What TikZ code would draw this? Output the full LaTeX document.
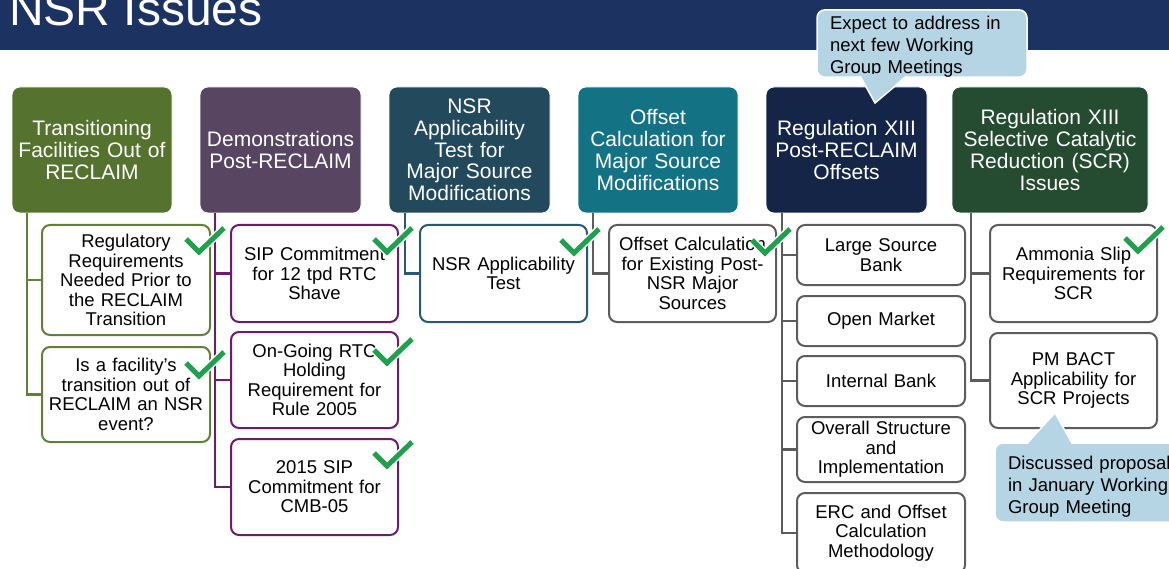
\documentclass[tikz,border=0pt]{standalone}
\usepackage{fontspec}
\setmainfont{Liberation Sans}
\definecolor{titlebar}{HTML}{1C3260}
\definecolor{hA}{HTML}{55722F}
\definecolor{hB}{HTML}{574562}
\definecolor{hC}{HTML}{234A5C}
\definecolor{hD}{HTML}{137385}
\definecolor{hE}{HTML}{142547}
\definecolor{hF}{HTML}{254B30}
\definecolor{lineA}{HTML}{62803A}
\definecolor{lineB}{HTML}{6B1C6B}
\definecolor{lineC}{HTML}{2B5871}
\definecolor{lineG}{HTML}{5C5C5C}
\definecolor{calfill}{HTML}{B5D4E4}
\definecolor{chkgreen}{HTML}{1EA04C}
\tikzset{
  chk/.pic={
    \draw[white, line width=8pt] (0,0)--(13,13)--(38,-11);
    \draw[chkgreen, line width=5pt] (0,0)--(13,13)--(38,-11);
  }
}
\begin{document}
\begin{tikzpicture}[x=1pt,y=-1pt,
  hdr/.style={rounded corners=8pt, draw=white, line width=0.8pt, text=white, align=center,
    inner sep=0pt, font=\fontsize{21}{21.7}\selectfont, minimum height=126pt},
  sub/.style={rounded corners=8pt, line width=2pt, fill=white, align=center, inner sep=0pt,
    font=\fontsize{18.5}{19.5}\selectfont, text width=160pt, minimum width=167pt},
  conn/.style={line width=2.5pt},
  callout/.style={rounded corners=8pt, fill=calfill, draw=white, line width=1.5pt, align=left,
    font=\fontsize{18.5}{22}\selectfont, text=black, inner xsep=13pt, inner ysep=0pt},
]
\useasboundingbox (0,0) rectangle (1169,569);
\clip (0,0) rectangle (1169,569);

% title bar
\fill[titlebar] (0,0) rectangle (1169,50);
\node[anchor=base west, inner sep=0pt, text=white, font=\fontsize{48}{48}\selectfont] (title) at (9,26) {NSR Issues};

% headers
\node[hdr, fill=hA, minimum width=160pt, text width=154pt] (h1) at (92,150) {Transitioning\\Facilities Out of\\RECLAIM};
\node[hdr, fill=hB, minimum width=161pt, text width=155pt] (h2) at (280.5,150) {Demonstrations\\Post-RECLAIM};
\node[hdr, fill=hC, minimum width=161pt, text width=155pt] (h3) at (469.5,150) {NSR\\Applicability\\Test for\\Major Source\\Modifications};
\node[hdr, fill=hD, minimum width=160pt, text width=154pt] (h4) at (658,150) {Offset\\Calculation for\\Major Source\\Modifications};
\node[hdr, fill=hE, minimum width=161pt, text width=155pt] (h5) at (846.5,150) {Regulation XIII\\Post-RECLAIM\\Offsets};
\node[hdr, fill=hF, minimum width=196pt, text width=190pt] (h6) at (1050,150) {Regulation XIII\\Selective Catalytic\\Reduction (SCR)\\Issues};

% trunk coordinates
\coordinate (t1) at (27,213);
\coordinate (t2) at (215,213);
\coordinate (t3) at (405,213);
\coordinate (t4) at (593,213);
\coordinate (t5) at (782,213);
\coordinate (t6) at (971,213);

% sub boxes
\node[sub, draw=lineA, minimum width=168pt, minimum height=110pt] (c1a) at (126,280) {Regulatory\\Requirements\\Needed Prior to\\the RECLAIM\\Transition};
\node[sub, draw=lineA, minimum width=168pt, minimum height=95pt] (c1b) at (126,394.5) {Is a facility’s\\transition out of\\RECLAIM an NSR\\event?};

\node[sub, draw=lineB, minimum height=97pt] (c2a) at (314.5,273.5) {SIP Commitment\\for 12 tpd RTC\\Shave};
\node[sub, draw=lineB, minimum height=96pt] (c2b) at (314.5,380) {On-Going RTC\\Holding\\Requirement for\\Rule 2005};
\node[sub, draw=lineB, minimum height=96pt] (c2c) at (314.5,487) {2015 SIP\\Commitment for\\CMB-05};

\node[sub, draw=lineC, minimum height=97pt] (c3) at (503.5,273.5) {NSR Applicability\\Test};

\node[sub, draw=lineG, minimum height=97pt] (c4) at (692.5,273.5) {Offset Calculation\\for Existing Post-\\NSR Major\\Sources};

\node[sub, draw=lineG, minimum width=168pt, minimum height=60pt] (c5a) at (881,255) {Large Source\\Bank};
\node[sub, draw=lineG, minimum width=168pt, minimum height=50pt] (c5b) at (881,321) {Open Market};
\node[sub, draw=lineG, minimum width=168pt, minimum height=50pt] (c5c) at (881,381) {Internal Bank};
\node[sub, draw=lineG, minimum width=168pt, minimum height=65pt] (c5d) at (881,449.5) {Overall Structure\\and\\Implementation};
\node[sub, draw=lineG, minimum width=168pt, minimum height=80pt] (c5e) at (881,533) {ERC and Offset\\Calculation\\Methodology};

\node[sub, draw=lineG, minimum height=97pt] (c6a) at (1073.5,273.5) {Ammonia Slip\\Requirements for\\SCR};
\node[sub, draw=lineG, minimum height=95pt] (c6b) at (1073.5,380.5) {PM BACT\\Applicability for\\SCR Projects};

% connectors
\draw[conn, lineA] (t1) |- (c1a.west);
\draw[conn, lineA] (t1) |- (c1b.west);
\draw[conn, lineB] (t2) |- (c2a.west);
\draw[conn, lineB] (t2) |- (c2b.west);
\draw[conn, lineB] (t2) |- (c2c.west);
\draw[conn, lineC] (t3) |- (c3.west);
\draw[conn, lineG] (t4) |- (c4.west);
\draw[conn, lineG] (t5) |- (c5a.west);
\draw[conn, lineG] (t5) |- (c5b.west);
\draw[conn, lineG] (t5) |- (c5c.west);
\draw[conn, lineG] (t5) |- (c5d.west);
\draw[conn, lineG] (t5) |- (c5e.west);
\draw[conn, lineG] (t6) |- (c6a.west);
\draw[conn, lineG] (t6) |- (c6b.west);

% check marks
\pic at (186,239) {chk};
\pic at (186,363) {chk};
\pic at (374,239) {chk};
\pic at (374,350) {chk};
\pic at (374,453) {chk};
\pic at (561,240) {chk};
\pic at (752,240) {chk};
\pic at (1125,238) {chk};

% callouts
\node[callout, minimum width=210pt, minimum height=65pt, text width=184pt] (co1) at (922,43.5) {\rule{0pt}{19.5pt}Expect to address in\\next few Working\\Group Meetings};
\fill[calfill] (860,74) -- (875,103) -- (907,74) -- cycle;
\draw[white, line width=1.5pt] (860,76) -- (875,103) -- (907,76);

\node[callout, minimum width=200pt, minimum height=79pt, text width=174pt] (co2) at (1095,482.5) {\rule{0pt}{21.5pt}Discussed proposal\\in January Working\\Group Meeting};
\fill[calfill] (1027,445) -- (1055,413) -- (1072,445) -- cycle;
\draw[white, line width=1.5pt] (1027,443) -- (1055,413) -- (1072,443);
\end{tikzpicture}
\end{document}
